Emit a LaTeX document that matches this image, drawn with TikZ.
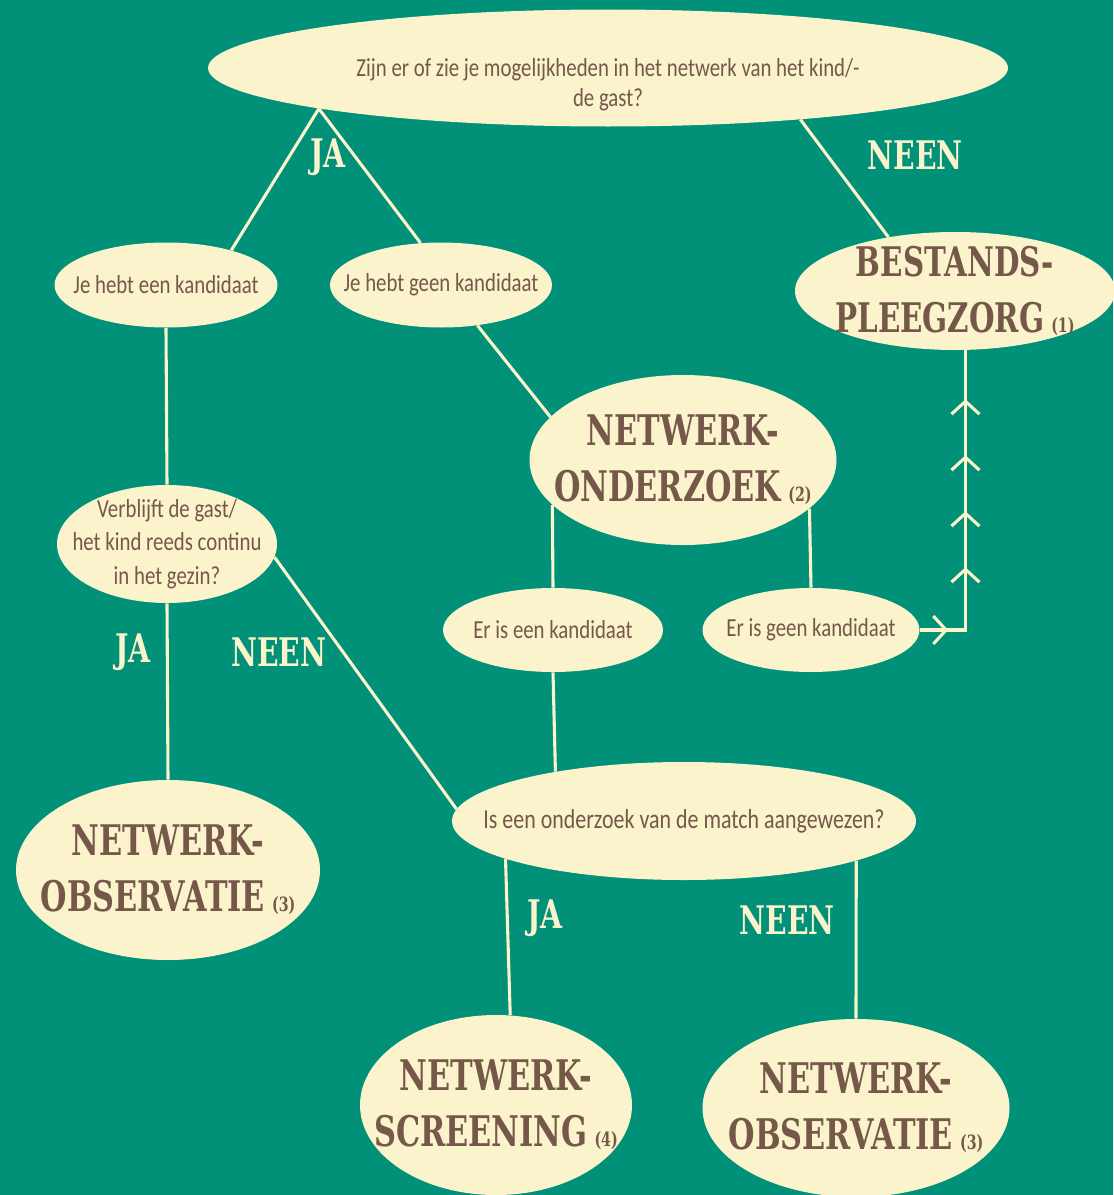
\documentclass[tikz,border=0pt]{standalone}
\usepackage{fontspec}
\setmainfont{Carlito}[FakeStretch=0.8]
\newfontfamily\slabfont{DejaVu Serif}[FakeStretch=0.72]
\usetikzlibrary{shapes.geometric,arrows.meta,decorations.markings}
\definecolor{bgteal}{RGB}{0,145,120}
\definecolor{cream}{RGB}{250,243,203}
\definecolor{brownish}{RGB}{118,88,74}
\newcommand{\refnr}[1]{{\fontsize{14}{14}\selectfont(#1)}}
\begin{document}
\begin{tikzpicture}[
		bubble/.style={ellipse, fill=cream, inner xsep=-1.2cm, inner ysep=-0.6cm, align=center, text=brownish, font=\fontsize{18.5}{24}\selectfont},
		bigbubble/.style={bubble, font=\slabfont\bfseries\fontsize{30}{40}\selectfont},
		answer/.style={text=cream, font=\slabfont\bfseries\fontsize{28}{28}\selectfont},
		link/.style={draw=cream, line width=2.2pt},
		chevrons/.style={postaction={decorate}, decoration={markings,
			mark=at position 0.71cm with {\arrow[cream]{Straight Barb[length=0.32cm,width=0.7cm]}},
			mark=between positions 2.71cm and 6.95cm step 1.4cm with {\arrow[cream]{Straight Barb[length=0.32cm,width=0.7cm]}}}}
	]
		\useasboundingbox (0,0) rectangle (27.825,-29.875);
		\fill[bgteal] (0,0) rectangle (27.825,-29.875);
		
		% Questions and answers
		\node[bubble, minimum width=20cm, minimum height=2.925cm, font=\fontsize{18.5}{21.5}\selectfont] (vraag) at (15.2,-1.7) {\rule{0pt}{1.3cm}Zijn er of zie je mogelijkheden in het netwerk van het kind/-\\de gast?};
		\node[bubble, minimum width=5.575cm, minimum height=2.125cm] (een) at (4.15,-7.125) {Je hebt een kandidaat};
		\node[bubble, minimum width=5.55cm, minimum height=2.125cm] (geen) at (11.025,-7.125) {Je hebt geen kandidaat};
		\node[bigbubble, minimum width=8cm, minimum height=2.95cm, font=\slabfont\bfseries\fontsize{29}{40}\selectfont] (best) at (23.875,-7.275) {BESTANDS-\\PLEEGZORG\,\refnr{1}};
		\node[bigbubble, minimum width=7.675cm, minimum height=4.25cm] (onderzoek) at (17.075,-11.5) {NETWERK-\\ONDERZOEK\,\refnr{2}};
		\node[bubble, minimum width=5.5cm, minimum height=2.95cm] (verblijft) at (4.175,-13.6) {Verblijft de gast/\\het kind reeds continu\\in het gezin?};
		\node[bubble, minimum width=5.5cm, minimum height=2.1cm] (ereen) at (13.825,-15.75) {Er is een kandidaat};
		\node[bubble, minimum width=5.425cm, minimum height=2.1cm] (ergeen) at (20.275,-15.75) {Er is geen kandidaat};
		\node[bubble, minimum width=11.6cm, minimum height=2.95cm, font=\fontsize{19.5}{24}\selectfont] (match) at (17.1,-20.525) {Is een onderzoek van de match aangewezen?};
		\node[bigbubble, minimum width=7.6cm, minimum height=4.5cm] (obsL) at (4.2,-21.75) {NETWERK-\\OBSERVATIE\,\refnr{3}};
		\node[bigbubble, minimum width=6.8cm, minimum height=4.5cm] (screen) at (12.4,-27.625) {NETWERK-\\SCREENING\,\refnr{4}};
		\node[bigbubble, minimum width=7.675cm, minimum height=4.45cm] (obsR) at (21.4,-27.7) {NETWERK-\\OBSERVATIE\,\refnr{3}};
		
		% Labels
		\node[answer] (jaTop) at (8.2,-3.925) {JA};
		\node[answer] (neenTop) at (22.875,-3.875) {NEEN};
		\node[answer] (jaLeft) at (3.325,-16.3) {JA};
		\node[answer] (neenLeft) at (6.975,-16.3) {NEEN};
		\node[answer] (jaBottom) at (13.625,-22.95) {JA};
		\node[answer] (neenBottom) at (19.675,-23) {NEEN};
		
		% Edges
		\draw[link] (vraag.188.7) -- (een.28);
		\draw[link] (vraag.188.7) -- (geen.116);
		\draw[link] (vraag.345.8) -- (best.141.7);
		\draw[link] (een.south) -- (verblijft.north);
		\draw[link] (geen.312) -- (onderzoek.162);
		\draw[link] (verblijft.south) -- (obsL.north);
		\draw[link] (verblijft.353) -- (match.177.8);
		\draw[link] (onderzoek.199.1) -- (ereen.north);
		\draw[link] (onderzoek.339.9) -- (ergeen.north);
		\draw[link] (ereen.south) -- (match.159.6);
		\draw[link, chevrons] (ergeen.east) -| (best.280.6);
		\draw[link] (match.192.5) -- (screen.81.1);
		\draw[link] (match.347.4) -- (obsR.north);
		
	\end{tikzpicture}
\end{document}
